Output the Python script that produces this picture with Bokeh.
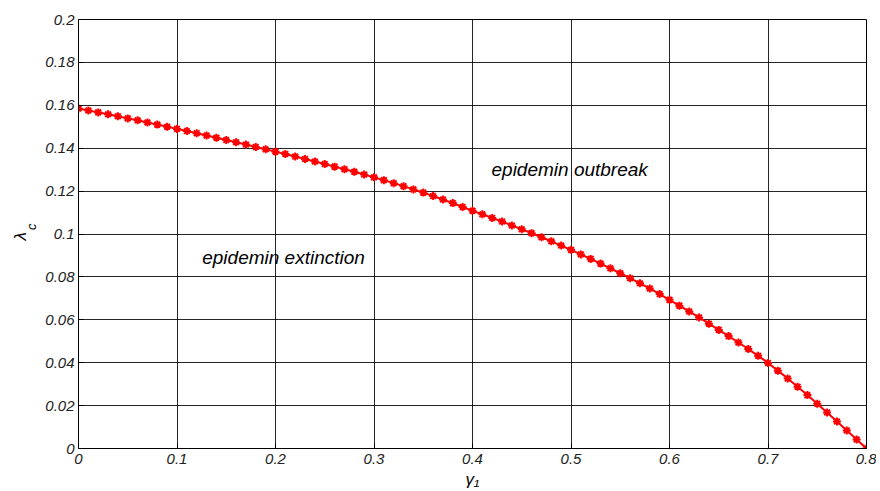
from bokeh.plotting import figure
from bokeh.models import Label, FixedTicker, Range1d, LinearAxis
from bokeh.embed import file_html
from bokeh.resources import INLINE

# data
gamma = [round(0.01 * i, 2) for i in range(81)]
lam_c = [
    0.1585, 0.1576, 0.1567, 0.1558, 0.1549, 0.1539, 0.1530, 0.1520, 0.1510, 0.1500,
    0.1490, 0.1480, 0.1470, 0.1459, 0.1449, 0.1438, 0.1428, 0.1417, 0.1406, 0.1395,
    0.1384, 0.1373, 0.1361, 0.1350, 0.1338, 0.1326, 0.1314, 0.1302, 0.1290, 0.1277,
    0.1264, 0.1251, 0.1237, 0.1223, 0.1208, 0.1193, 0.1177, 0.1161, 0.1144, 0.1126,
    0.1108, 0.1092, 0.1075, 0.1058, 0.1040, 0.1022, 0.1004, 0.0985, 0.0966, 0.0946,
    0.0926, 0.0905, 0.0884, 0.0862, 0.0840, 0.0817, 0.0794, 0.0770, 0.0746, 0.0720,
    0.0693, 0.0666, 0.0639, 0.0611, 0.0582, 0.0553, 0.0524, 0.0494, 0.0464, 0.0432,
    0.0399, 0.0363, 0.0326, 0.0288, 0.0249, 0.0209, 0.0168, 0.0126, 0.0084, 0.0042,
    0.0000,
]
x_ticks = [0, 0.1, 0.2, 0.3, 0.4, 0.5, 0.6, 0.7, 0.8]
x_tick_labels = ["0", "0.1", "0.2", "0.3", "0.4", "0.5", "0.6", "0.7", "0.8"]
y_ticks = [0, 0.02, 0.04, 0.06, 0.08, 0.1, 0.12, 0.14, 0.16, 0.18, 0.2]
y_tick_labels = ["0", "0.02", "0.04", "0.06", "0.08", "0.1", "0.12", "0.14", "0.16", "0.18", "0.2"]

FONT = "Liberation Sans"
NB = "\u00a0"

p = figure(width=876, height=491, output_backend="svg", toolbar_location=None,
           x_range=Range1d(0, 0.8), y_range=Range1d(0, 0.2),
           min_border_left=78, min_border_right=10, min_border_top=19, min_border_bottom=42)
p.background_fill_color = "white"
p.border_fill_color = "white"
p.outline_line_color = "black"
p.outline_line_width = 1

for ax, ticks, labels in ((p.xaxis[0], x_ticks, x_tick_labels), (p.yaxis[0], y_ticks, y_tick_labels)):
    ax.ticker = FixedTicker(ticks=ticks)
    ax.major_label_overrides = {t: l for t, l in zip(ticks, labels)}
    ax.minor_tick_line_color = None
    ax.major_tick_in = 5
    ax.major_tick_out = 0
    ax.axis_line_color = "black"
    ax.major_tick_line_color = "black"
    ax.major_label_text_font = FONT
    ax.major_label_text_font_style = "italic"
    ax.major_label_text_font_size = "15px"
    ax.major_label_text_color = "#222222"
    ax.axis_label_text_font = FONT
    ax.axis_label_text_font_style = "italic"
    ax.axis_label_text_color = "black"
p.xaxis.major_label_standoff = 5
p.yaxis.major_label_standoff = 4
p.xaxis.axis_label = "γ₁"
p.xaxis.axis_label_text_font_size = "17px"
p.xaxis.axis_label_standoff = 3
# subscript c of the y label (inner), lambda on an outer bare axis
p.yaxis.axis_label = NB * 4 + "c"
p.yaxis.axis_label_text_font_size = "13px"
p.yaxis.axis_label_standoff = 3

outer = LinearAxis(ticker=FixedTicker(ticks=[]), axis_line_color=None,
                   major_tick_line_color=None, minor_tick_line_color=None,
                   major_label_text_font_size="0px",
                   axis_label="λ" + NB, axis_label_standoff=-8,
                   axis_label_text_font=FONT, axis_label_text_font_style="italic",
                   axis_label_text_font_size="17px", axis_label_text_color="black")
p.add_layout(outer, "left")

p.xgrid.ticker = FixedTicker(ticks=x_ticks)
p.ygrid.ticker = FixedTicker(ticks=y_ticks)
p.grid.grid_line_color = "black"
p.grid.grid_line_alpha = 0.85
p.grid.grid_line_width = 1

p.line(gamma, lam_c, line_color="red", line_width=2)
p.scatter(gamma, lam_c, marker="asterisk", size=8, line_color="red", line_width=2)

def lab(x, y, t, size, angle=0, align="left", baseline="middle"):
    p.add_layout(Label(x=x, y=y, text=t, text_font=FONT, text_font_style="italic",
                       text_font_size=size, text_color="black", angle=angle,
                       text_align=align, text_baseline=baseline))

lab(0.4193, 0.130, "epidemin outbreak", "19px")
lab(0.1256, 0.0891, "epidemin extinction", "19px")

open("out.html", "w").write(file_html(p, INLINE))
